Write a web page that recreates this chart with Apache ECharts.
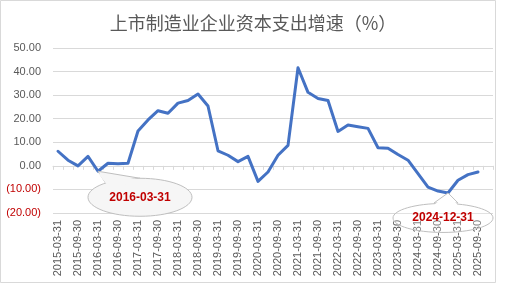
<!DOCTYPE html>
<html><head><meta charset="utf-8">
<script src="https://cdn.jsdelivr.net/npm/echarts@6/dist/echarts.min.js"></script>
<style>html,body{margin:0;padding:0;background:#fff}#c{width:506px;height:285px}</style>
</head><body><div id="c"></div>
<script>
var titleText = '上市制造业企业资本支出增速（%）';
var categories = [
'2015-03-31','2015-06-30','2015-09-30','2015-12-31',
'2016-03-31','2016-06-30','2016-09-30','2016-12-31',
'2017-03-31','2017-06-30','2017-09-30','2017-12-31',
'2018-03-31','2018-06-30','2018-09-30','2018-12-31',
'2019-03-31','2019-06-30','2019-09-30','2019-12-31',
'2020-03-31','2020-06-30','2020-09-30','2020-12-31',
'2021-03-31','2021-06-30','2021-09-30','2021-12-31',
'2022-03-31','2022-06-30','2022-09-30','2022-12-31',
'2023-03-31','2023-06-30','2023-09-30','2023-12-31',
'2024-03-31','2024-06-30','2024-09-30','2024-12-31',
'2025-03-31','2025-06-30','2025-09-30','2025-12-31'];
var capexGrowth = [
6.2, 2.4, 0.0, 4.0,
-2.3, 1.1, 0.9, 1.1,
14.8, 19.5, 23.4, 22.3,
26.6, 27.7, 30.5, 25.4,
6.4, 4.5, 1.8, 4.0,
-6.6, -2.6, 4.5, 8.7,
41.6, 31.2, 28.6, 27.7,
14.6, 17.3, 16.6, 15.9,
7.7, 7.5, 4.8, 2.4,
-3.3, -9.0, -10.7, -11.5,
-6.1, -3.7, -2.6, null];
var yMin = -20, yMax = 50, yStep = 10;
var callouts = [
  {label: '2016-03-31', dx: 42, dy: 26, rx: 52, ry: 19, fill: '#f6f6f6', base: [[8, 12.5], [42, 7]]},
  {label: '2024-12-31', dx: -5, dy: 25, rx: 50, ry: 14.5, fill: 'rgba(255,255,255,0.25)', base: [[-14, 10], [10, 10]]}
];

var chart = echarts.init(document.getElementById('c'), null, {renderer: 'canvas'});
var fontLat = '"Liberation Sans", Arial, sans-serif';
chart.setOption({
  animation: false,
  backgroundColor: '#fff',
  title: {
    text: titleText, left: 'center', top: 9,
    textStyle: {fontFamily: '"Noto Sans CJK SC", sans-serif', fontSize: 18, fontWeight: 'normal', color: '#595959'}
  },
  grid: {left: 53, right: 13, top: 48, bottom: 72, containLabel: false},
  xAxis: {
    type: 'category', data: categories, boundaryGap: true,
    axisLine: {lineStyle: {color: '#d9d9d9', width: 1}},
    axisTick: {show: true, interval: 0, length: 4, lineStyle: {color: '#d9d9d9'}},
    axisLabel: {interval: 1, rotate: 90, margin: 7, fontSize: 11, fontFamily: fontLat, color: '#595959'},
    splitLine: {show: false}
  },
  yAxis: {
    type: 'value', min: yMin, max: yMax, interval: yStep,
    axisLine: {show: false}, axisTick: {show: false},
    splitLine: {lineStyle: {color: '#d9d9d9', width: 1}},
    axisLabel: {
      margin: 12, fontSize: 11, fontFamily: fontLat,
      formatter: function (v) { return v < 0 ? '(' + Math.abs(v).toFixed(2) + ')' : v.toFixed(2); },
      color: function (v) { return Number(v) < 0 ? '#C00000' : '#595959'; }
    }
  },
  series: [{
    type: 'line', data: capexGrowth, symbol: 'none', connectNulls: false,
    lineStyle: {color: '#4472C4', width: 3, join: 'round', cap: 'round'}
  }]
});

var g = [{type: 'rect', shape: {x: 0.5, y: 0.5, width: 495, height: 282}, style: {fill: 'none', stroke: '#d9d9d9', lineWidth: 1}, silent: true, z: 100}];
callouts.forEach(function (c) {
  var idx = categories.indexOf(c.label);
  var p = chart.convertToPixel({seriesIndex: 0}, [idx, capexGrowth[idx]]);
  var cx = p[0] + c.dx, cy = p[1] + c.dy;
  var b1 = [p[0] + c.base[0][0], p[1] + c.base[0][1]];
  var b2 = [p[0] + c.base[1][0], p[1] + c.base[1][1]];
  var b1in = [b1[0], b1[1] + 4], b2in = [b2[0], b2[1] + 4];
  g.push({type: 'polygon', shape: {points: [p, b1, b2]}, style: {fill: c.fill === '#f6f6f6' ? '#f6f6f6' : '#fff', stroke: '#bfbfbf', lineWidth: 1}, z: 101, silent: true});
  g.push({type: 'ellipse', shape: {cx: cx, cy: cy, rx: c.rx, ry: c.ry}, style: {fill: c.fill, stroke: '#bfbfbf', lineWidth: 1}, z: 102, silent: true});
  g.push({type: 'polygon', shape: {points: [[p[0], p[1] + 2], [b1[0] + 1, b1[1] + 1], b1in, b2in, [b2[0] - 1, b2[1] + 1]]}, style: {fill: c.fill === '#f6f6f6' ? '#f6f6f6' : '#fff', stroke: null}, z: 103, silent: true});
  g.push({type: 'text', x: cx, y: cy, style: {text: c.label, fill: '#C00000', font: 'bold 12px "Liberation Sans", Arial, sans-serif', align: 'center', verticalAlign: 'middle'}, z: 104, silent: true});
});
chart.setOption({graphic: g});
</script></body></html>
